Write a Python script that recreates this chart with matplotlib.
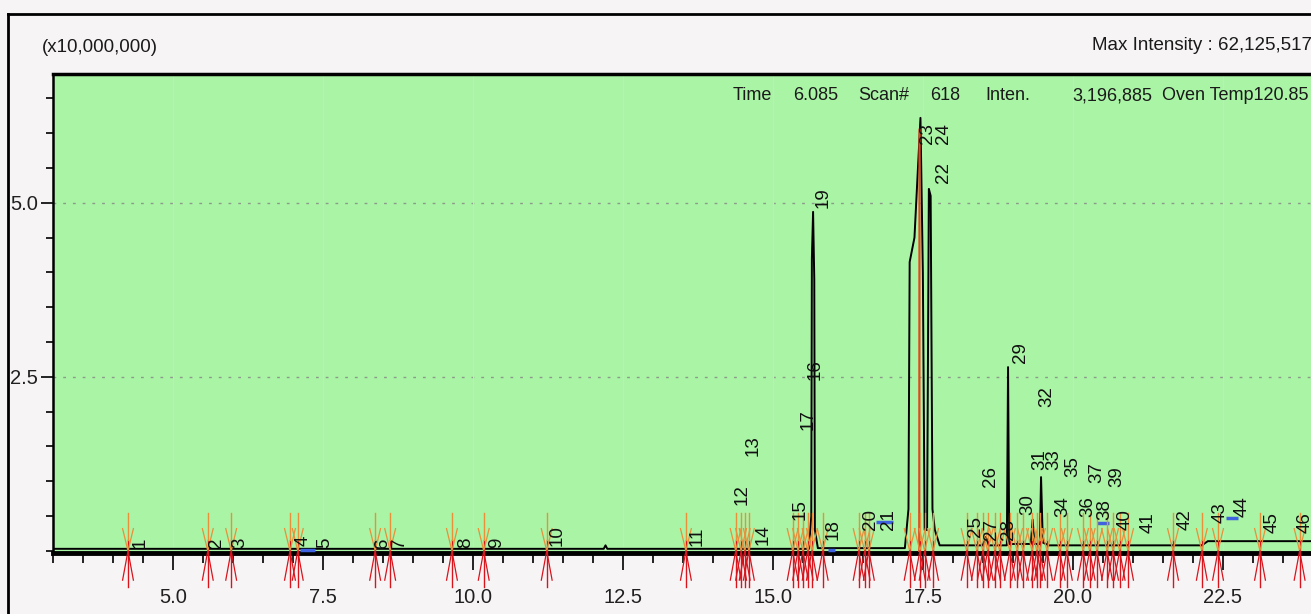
import matplotlib.pyplot as plt
from matplotlib.lines import Line2D
from matplotlib.ticker import MultipleLocator, FixedLocator, FormatStrFormatter

# TIC trace: retention time (min) / intensity (x10,000,000)
trace_time = [3.0, 12.18, 12.21, 12.24, 15.60, 15.64, 15.65, 15.67, 15.69, 15.70, 15.75,
              17.20, 17.26, 17.28, 17.36, 17.46, 17.50, 17.53, 17.57, 17.60, 17.63, 17.66,
              17.70, 17.78, 18.50, 18.55, 18.60, 18.90, 18.92, 18.94, 19.30, 19.33, 19.36,
              19.45, 19.47, 19.50, 19.60, 22.15, 22.25, 23.97]
trace_inten = [0.03, 0.03, 0.08, 0.03, 0.03, 0.5, 4.2, 4.87, 3.9, 0.3, 0.04,
               0.04, 0.6, 4.15, 4.5, 6.22, 4.0, 0.3, 0.3, 5.2, 5.1, 0.6,
               0.3, 0.08, 0.08, 0.2, 0.08, 0.08, 2.64, 0.1, 0.1, 0.45, 0.1,
               0.1, 1.06, 0.12, 0.08, 0.08, 0.14, 0.14]

# peak numbers and where their labels sit
peak_no = list(range(1, 47))
label_time = [4.45, 5.72, 6.12, 7.17, 7.53, 8.50, 8.78, 9.87, 10.40, 11.40,
              13.73, 14.48, 14.67, 14.83, 15.45, 15.70, 15.58, 16.00, 15.83, 16.62,
              16.92, 17.85, 17.57, 17.85, 18.37, 18.62, 18.64, 18.93, 19.12, 19.25,
              19.45, 19.57, 19.69, 19.83, 20.00, 20.25, 20.40, 20.53, 20.73, 20.87,
              21.25, 21.87, 22.45, 22.83, 23.32, 23.87]
label_height = [0.04, 0.04, 0.04, 0.07, 0.04, 0.04, 0.04, 0.04, 0.04, 0.07,
                0.07, 0.66, 1.37, 0.09, 0.45, 2.46, 1.74, 0.16, 4.93, 0.30,
                0.30, 5.28, 5.85, 5.85, 0.20, 0.92, 0.16, 0.16, 2.70, 0.52,
                1.16, 2.07, 1.16, 0.49, 1.06, 0.49, 0.98, 0.45, 0.92, 0.30,
                0.26, 0.30, 0.40, 0.49, 0.26, 0.26]

# peak start / end marks
mark_time = [4.25, 5.58, 5.97, 6.95, 7.08, 8.37, 8.62, 9.65, 10.18, 11.23,
             13.55, 14.38, 14.47, 14.53, 14.60, 15.33, 15.42, 15.50, 15.58, 15.65,
             15.83, 16.43, 16.53, 16.60, 17.28, 17.45, 17.53, 17.67,
             18.23, 18.40, 18.50, 18.58, 18.70, 18.78, 18.95, 19.07, 19.17, 19.32,
             19.40, 19.45, 19.57, 19.78, 19.90, 20.17, 20.28, 20.40, 20.57, 20.67,
             20.78, 20.92, 21.67, 22.15, 22.42, 23.12, 23.78]

# short blue integration baselines
blue_start = [7.12, 15.92, 16.72, 20.40, 22.55]
blue_end = [7.37, 16.03, 17.00, 20.60, 22.75]
blue_level = [0.02, 0.02, 0.42, 0.40, 0.47]

W, H = 1311, 614
narrow = ['Liberation Sans Narrow', 'Arial Narrow', 'Liberation Sans', 'DejaVu Sans']

fig = plt.figure(figsize=(W / 100, H / 100), dpi=100, facecolor='#f7f4f6')
ax = fig.add_axes([53 / W, 61 / H, 1258 / W, 479 / H])
ax.set_facecolor('#aaf4a5')
ax.set_xlim(3.0, 23.97)
ax.set_ylim(-0.03, 6.85)

# grid
for gy in [2.5, 5.0]:
    ax.axhline(gy, color='#8c9a8c', lw=1, ls=(0, (2, 5)), zorder=1)
for gx in [5.0, 7.5, 10.0, 12.5, 15.0, 17.5, 20.0, 22.5]:
    ax.axvline(gx, color='#c4e8c0', lw=0.8, zorder=1)

ax.plot(trace_time, trace_inten, color='black', lw=1.4, zorder=3)
# red overlay on the main peak
ax.plot([17.44, 17.445], [0, 6.05], color='#e2461c', lw=1.6, zorder=3)

for a, b, lv in zip(blue_start, blue_end, blue_level):
    ax.plot([a, b], [lv, lv], color='#3f62e0', lw=2.5, zorder=3, solid_capstyle='butt')

for t in mark_time:
    ax.plot([t, t], [-0.52, 0.15], color='#d8141c', lw=1.0, clip_on=False, zorder=4)
    ax.plot([t, t], [0.15, 0.55], color='#e8903a', lw=1.0, clip_on=False, zorder=4)
    ax.plot([t - 0.09, t, t + 0.09], [0.32, 0.0, 0.32], color='#e8903a', lw=0.9, clip_on=False, zorder=4)
    ax.plot([t - 0.09, t, t + 0.09], [-0.42, 0.0, -0.42], color='#d8141c', lw=0.9, clip_on=False, zorder=4)

for n, t, h in zip(peak_no, label_time, label_height):
    ax.text(t, h, str(n), rotation=90, ha='center', va='bottom', fontsize=13.5,
            family=['Liberation Sans', 'DejaVu Sans'], color='#101010', zorder=5)

# axes look
ax.spines['right'].set_visible(False)
ax.spines['bottom'].set_linewidth(3.5)
ax.spines['top'].set_linewidth(2.5)
ax.spines['left'].set_linewidth(1.8)

ax.xaxis.set_major_locator(MultipleLocator(2.5))
ax.xaxis.set_minor_locator(MultipleLocator(0.5))
ax.xaxis.set_major_formatter(FormatStrFormatter('%.1f'))
ax.yaxis.set_major_locator(FixedLocator([2.5, 5.0]))
ax.yaxis.set_minor_locator(MultipleLocator(0.5))
ax.yaxis.set_major_formatter(FormatStrFormatter('%.1f'))
ax.tick_params(axis='x', which='major', length=12, width=1.2, pad=13)
ax.tick_params(axis='x', which='minor', length=7, width=1.2)
ax.tick_params(axis='y', which='major', length=9, width=1.2, pad=2)
ax.tick_params(axis='y', which='minor', length=5, width=1.2)
for lab in ax.get_xticklabels() + ax.get_yticklabels():
    lab.set_family(narrow)
    lab.set_fontsize(14.5)
    lab.set_color('#202020')

# window frame
fig.add_artist(Line2D([8 / W, 1], [1 - 14 / H, 1 - 14 / H], transform=fig.transFigure, color='black', lw=2))
fig.add_artist(Line2D([8 / W, 8 / W], [0, 1 - 14 / H], transform=fig.transFigure, color='black', lw=2))

hdr = dict(fontsize=13.5, family=narrow, color='#1a1a1a', va='center')
fig.text(42 / W, 1 - 47 / H, '(x10,000,000)', ha='left', **hdr)
fig.text(1312 / W, 1 - 45 / H, 'Max Intensity : 62,125,517', ha='right', **hdr)

hy = 1 - 96 / H
hdr['fontsize'] = 13
fig.text(733 / W, hy, 'Time', ha='left', **hdr)
fig.text(793 / W, hy, '6.085', ha='left', **hdr)
fig.text(858 / W, hy, 'Scan#', ha='left', **hdr)
fig.text(930 / W, hy, '618', ha='left', **hdr)
fig.text(985 / W, hy, 'Inten.', ha='left', **hdr)
fig.text(1152 / W, hy, '3,196,885', ha='right', **hdr)
fig.text(1309 / W, hy, 'Oven Temp120.85', ha='right', **hdr)

fig.savefig('out.png', dpi=100, facecolor=fig.get_facecolor())
